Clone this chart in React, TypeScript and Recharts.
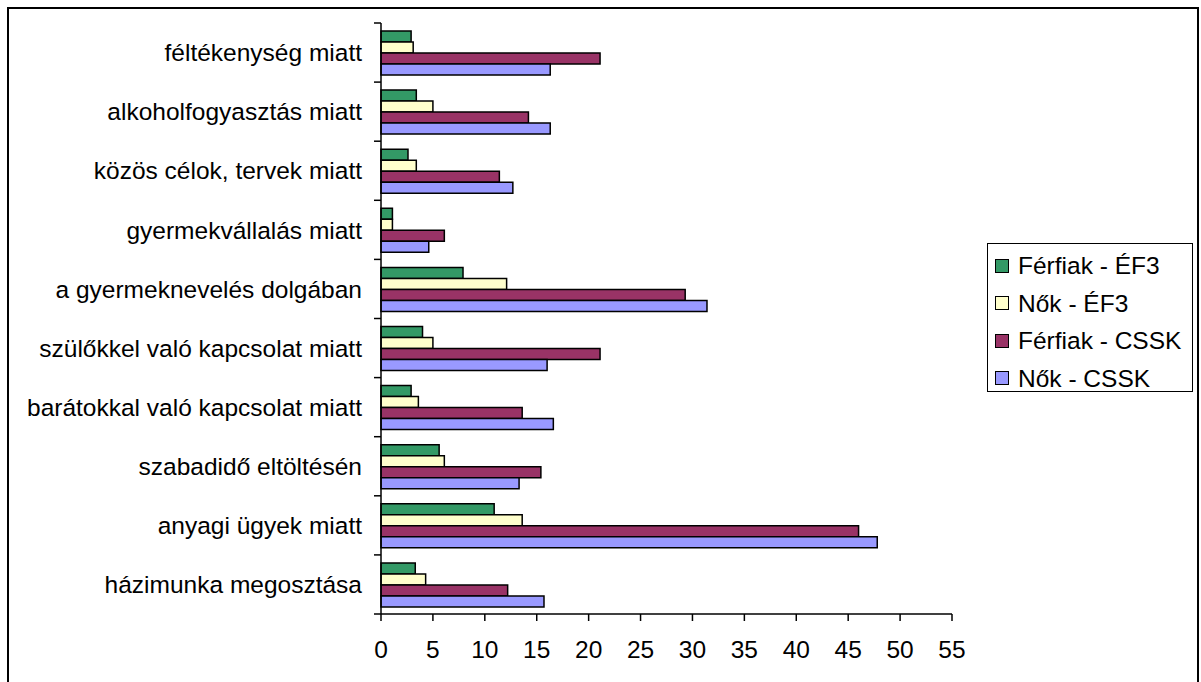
import React from 'react';
import { BarChart, Bar, XAxis, YAxis, Legend } from 'recharts';

const categories = [
  'féltékenység miatt',
  'alkoholfogyasztás miatt',
  'közös célok, tervek miatt',
  'gyermekvállalás miatt',
  'a gyermeknevelés dolgában',
  'szülőkkel való kapcsolat miatt',
  'barátokkal való kapcsolat miatt',
  'szabadidő eltöltésén',
  'anyagi ügyek miatt',
  'házimunka megosztása',
];
const ferfiakEF3 = [2.9, 3.4, 2.6, 1.1, 7.9, 4.0, 2.9, 5.6, 10.9, 3.3];
const nokEF3 = [3.1, 5.0, 3.4, 1.1, 12.1, 5.0, 3.6, 6.1, 13.6, 4.3];
const ferfiakCSSK = [21.1, 14.2, 11.4, 6.1, 29.3, 21.1, 13.6, 15.4, 46.0, 12.2];
const nokCSSK = [16.3, 16.3, 12.7, 4.6, 31.4, 16.0, 16.6, 13.3, 47.8, 15.7];
const xTicks = [0, 5, 10, 15, 20, 25, 30, 35, 40, 45, 50, 55];

const seriesNames = ['Férfiak - ÉF3', 'Nők - ÉF3', 'Férfiak - CSSK', 'Nők - CSSK'];
const seriesColors = ['#339966', '#FFFFCC', '#993366', '#9999FF'];

const data = categories.map((c, i) => ({
  cat: c,
  f3: ferfiakEF3[i],
  n3: nokEF3[i],
  fc: ferfiakCSSK[i],
  nc: nokCSSK[i],
}));
const keys = ['f3', 'n3', 'fc', 'nc'];

const FONT = 'Arial, "Liberation Sans", sans-serif';
const Y_TICK_MARGIN = 20;
const Y_TICK_LEN = 7;
const Y_LABEL_GAP = 19;

const CatTick = (props: any) => {
  const { x, y, payload, index } = props;
  const axisX = x + Y_TICK_MARGIN;
  const off = payload && payload.offset ? payload.offset : 0;
  const isLast = index === categories.length - 1;
  return (
    <g>
      <line x1={axisX - Y_TICK_LEN} x2={axisX} y1={y - off} y2={y - off} stroke="#000" strokeWidth={1.5} />
      {isLast && (
        <line x1={axisX - Y_TICK_LEN} x2={axisX} y1={y + off} y2={y + off} stroke="#000" strokeWidth={1.5} />
      )}
      <text
        x={axisX - Y_LABEL_GAP}
        y={y}
        dy="0.355em"
        textAnchor="end"
        fill="#000"
        fontSize={24.5}
        fontFamily={FONT}
      >
        {payload.value}
      </text>
    </g>
  );
};

const LegendBox = () => (
  <div
    style={{
      border: '1.5px solid #000',
      background: '#fff',
      width: 206,
      height: 149,
      boxSizing: 'border-box',
      paddingTop: 3,
      paddingLeft: 7,
      fontFamily: FONT,
      fontSize: 24.5,
      color: '#000',
    }}
  >
    {seriesNames.map((n, i) => (
      <div key={n} style={{ height: 37.5, display: 'flex', alignItems: 'center' }}>
        <span
          style={{
            display: 'inline-block',
            width: 12,
            height: 12,
            background: seriesColors[i],
            border: '1.5px solid #000',
            marginRight: 9,
            flexShrink: 0,
          }}
        />
        <span style={{ lineHeight: '37px', whiteSpace: 'nowrap' }}>{n}</span>
      </div>
    ))}
  </div>
);

export default function App() {
  return (
    <div style={{ position: 'absolute', left: 0, top: 0, width: 1201, height: 682, overflow: 'hidden', background: '#fff' }}>
      <div
        style={{
          position: 'absolute',
          left: 7,
          top: 7,
          width: 1192,
          height: 700,
          border: '2px solid #000',
          boxSizing: 'border-box',
        }}
      />
      <div style={{ position: 'absolute', left: 0, top: 0 }}>
        <BarChart
          width={1201}
          height={682}
          data={data}
          layout="vertical"
          margin={{ top: 23, right: 249, bottom: 0, left: 0 }}
          barSize={11}
          barGap={0}
          style={{ fontFamily: FONT }}
        >
          <YAxis
            yAxisId="cat"
            type="category"
            dataKey="cat"
            width={381}
            tickLine={false}
            tickSize={0}
            axisLine={{ stroke: '#000', strokeWidth: 1.5 }}
            tickMargin={Y_TICK_MARGIN}
            tick={<CatTick />}
            interval={0}
          />
          <XAxis
            type="number"
            domain={[0, 55]}
            ticks={xTicks}
            interval={0}
            height={68}
            tickSize={7}
            tickMargin={20}
            tickLine={{ stroke: '#000', strokeWidth: 1.5 }}
            axisLine={{ stroke: '#000', strokeWidth: 1.5 }}
            tick={{ fill: '#000', fontSize: 24.5, fontFamily: FONT }}
          />
          <Legend
            layout="vertical"
            align="center"
            verticalAlign="middle"
            content={() => <LegendBox />}
            wrapperStyle={{ left: 987, top: 243, width: 206, height: 149 }}
          />
          {keys.map((k, i) => (
            <Bar
              key={k}
              yAxisId="cat"
              dataKey={k}
              name={seriesNames[i]}
              fill={seriesColors[i]}
              stroke="#000"
              strokeWidth={1.5}
              isAnimationActive={false}
            />
          ))}
        </BarChart>
      </div>
    </div>
  );
}
